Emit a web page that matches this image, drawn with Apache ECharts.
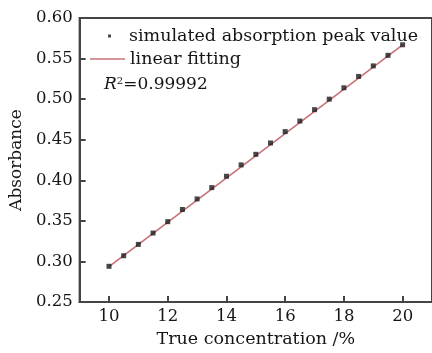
<!DOCTYPE html>
<html>
<head>
<meta charset="utf-8">
<script src="https://cdn.jsdelivr.net/npm/echarts@6/dist/echarts.min.js"></script>
<style>html,body{margin:0;padding:0;background:#fff;}#c{width:432px;height:353px;}</style>
</head>
<body>
<div id="c"></div>
<script>
var concentration = [10,10.5,11,11.5,12,12.5,13,13.5,14,14.5,15,15.5,16,16.5,17,17.5,18,18.5,19,19.5,20];
var absorbance = [0.294,0.307,0.321,0.335,0.349,0.364,0.377,0.391,0.405,0.419,0.432,0.446,0.460,0.473,0.487,0.500,0.514,0.528,0.541,0.554,0.567];
var fitX = [10, 20];
var fitY = [0.2935, 0.5670];
var xTicks = [10,12,14,16,18,20];
var yTicks = [0.25,0.30,0.35,0.40,0.45,0.50,0.55,0.60];
var seriesNames = ['simulated absorption peak value', 'linear fitting'];
var r2Label = 'R';
var r2Value = '=0.99992';

var FONT = 'DejaVu Serif';
var TXT = '#151515';
var AX = '#444';
var LINE = '#c8707a';
var chart = echarts.init(document.getElementById('c'), null, {renderer: 'canvas'});
chart.setOption({
  animation: false,
  backgroundColor: '#fff',
  textStyle: {fontFamily: FONT, color: TXT},
  grid: {left: 75, top: 18, right: -2, bottom: 44, show: true, borderColor: AX, borderWidth: 2},
  title: {
    left: 99, top: 71,
    text: '{i|' + r2Label + '}{s|2}{n|' + r2Value + '}',
    textStyle: {
      fontWeight: 'normal',
      rich: {
        i: {fontFamily: FONT, fontStyle: 'italic', fontWeight: 'normal', fontSize: 17, color: TXT},
        s: {fontFamily: FONT, fontWeight: 'normal', fontSize: 10, color: TXT, padding: [0,0,8,0]},
        n: {fontFamily: FONT, fontWeight: 'normal', fontSize: 17, color: TXT}
      }
    }
  },
  legend: [
    {
      data: [seriesNames[0]], left: 103, top: 22, orient: 'vertical',
      icon: 'rect', itemWidth: 3, itemHeight: 3,
      textStyle: {fontFamily: FONT, fontSize: 17.5, color: TXT, padding: [0,0,0,13]}
    },
    {
      data: [seriesNames[1]], left: 85, top: 45, orient: 'vertical',
      icon: 'path://M0,0 H35 V1.6 H0 Z', itemWidth: 35, itemHeight: 2,
      itemStyle: {color: LINE},
      textStyle: {fontFamily: FONT, fontSize: 17.5, color: TXT}
    }
  ],
  xAxis: {
    type: 'value', min: 9, max: 21,
    name: 'True concentration /%', nameLocation: 'middle', nameGap: 28,
    nameTextStyle: {fontFamily: FONT, fontSize: 17.5, color: TXT},
    axisLine: {lineStyle: {color: AX, width: 2}},
    axisTick: {inside: true, length: 6, lineStyle: {color: AX, width: 2}, customValues: xTicks},
    axisLabel: {fontFamily: FONT, fontSize: 16.5, color: TXT, margin: 6, customValues: xTicks},
    splitLine: {show: false}
  },
  yAxis: {
    type: 'value', min: 0.25, max: 0.60, interval: 0.05,
    name: 'Absorbance', nameLocation: 'middle', nameGap: 46,
    nameTextStyle: {fontFamily: FONT, fontSize: 17, color: TXT},
    axisLine: {show: true, lineStyle: {color: AX, width: 2}},
    axisTick: {show: true, inside: true, length: 6, lineStyle: {color: AX, width: 2}, customValues: yTicks},
    axisLabel: {fontFamily: FONT, fontSize: 16.5, color: TXT, margin: 7, customValues: yTicks,
      formatter: function (v) { return v.toFixed(2); }},
    splitLine: {show: false}
  },
  series: [
    {
      name: seriesNames[1], type: 'line', symbol: 'none',
      data: fitX.map(function (x, i) { return [x, fitY[i]]; }),
      lineStyle: {color: LINE, width: 1.6}, itemStyle: {color: LINE}, z: 2
    },
    {
      name: seriesNames[0], type: 'scatter', symbol: 'rect', symbolSize: 5,
      data: concentration.map(function (x, i) { return [x, absorbance[i]]; }),
      itemStyle: {color: '#1a1a1a'}, z: 3
    }
  ]
});
</script>
</body>
</html>
